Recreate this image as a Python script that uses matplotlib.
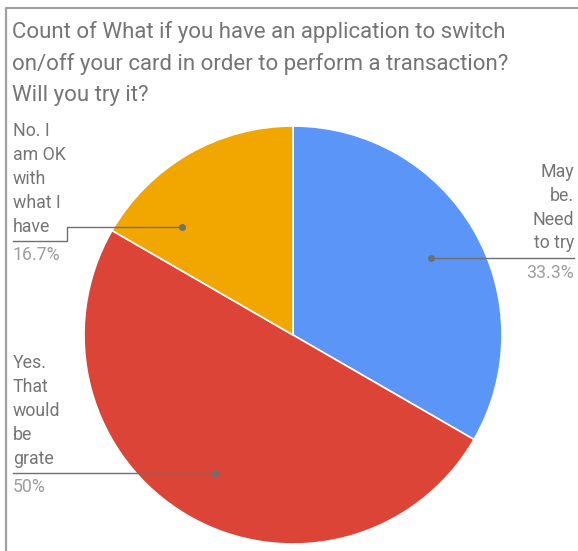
import matplotlib.pyplot as plt

plt.rcParams['font.family'] = ['Roboto', 'DejaVu Sans']

title = "Count of What if you have an application to switch\non/off your card in order to perform a transaction?\nWill you try it?"
labels = ["May\nbe.\nNeed\nto try", "Yes.\nThat\nwould\nbe\ngrate", "No. I\nam OK\nwith\nwhat I\nhave"]
values = [2, 3, 1]
pct_text = ["33.3%", "50%", "16.7%"]
colors = ["#5b95f7", "#db4437", "#f2a600"]

W, H = 578, 551
fig = plt.figure(figsize=(W / 100, H / 100), dpi=100)
ax = fig.add_axes([0, 0, 1, 1])

# frame (top + left only)
ax.plot([5.5, 5.5, W], [0, H - 7.5, H - 7.5], color="#a0a0a0", lw=1.6, solid_capstyle='butt')

ax.text(12, H - 21, title, ha='left', va='top', fontsize=16, color="#757575", linespacing=1.6)

cx, cy, r = 293, H - 335, 209
ax.pie(values, colors=colors, startangle=90, counterclock=False, center=(cx, cy), radius=r,
       wedgeprops=dict(edgecolor='white', linewidth=1.2), frame=True)
ax.set_xlim(0, W)
ax.set_ylim(0, H)
ax.set_aspect('equal')
ax.axis('off')

gray = "#6f6f6f"
lab_col = "#757575"
pct_col = "#9e9e9e"
fs = 12.8
ls = 1.42

# blue: right side
y0 = H - 257.5
ax.plot([430.5, 574], [y0, y0], color=gray, lw=1)
ax.plot([430.5], [y0], 'o', color=gray, ms=4)
ax.text(574, y0 + 5, labels[0], ha='right', va='bottom', fontsize=fs, color=lab_col, linespacing=ls)
ax.text(574, y0 - 6, pct_text[0], ha='right', va='top', fontsize=fs, color=pct_col)

# red: lower left
y1 = H - 472.5
ax.plot([13, 215], [y1, y1], color=gray, lw=1)
ax.plot([215], [y1], 'o', color=gray, ms=4)
ax.text(13, y1 + 5, labels[1], ha='left', va='bottom', fontsize=fs, color=lab_col, linespacing=ls)
ax.text(13, y1 - 6, pct_text[1], ha='left', va='top', fontsize=fs, color=pct_col)

# yellow: upper left, bent leader
ya, yb = H - 226.5, H - 240.5
ax.plot([181.5, 67, 67, 13], [ya, ya, yb, yb], color=gray, lw=1)
ax.plot([181.5], [ya], 'o', color=gray, ms=4)
ax.text(13, yb + 5, labels[2], ha='left', va='bottom', fontsize=fs, color=lab_col, linespacing=ls)
ax.text(13, yb - 6, pct_text[2], ha='left', va='top', fontsize=fs, color=pct_col)

fig.savefig("out.png", dpi=100)
